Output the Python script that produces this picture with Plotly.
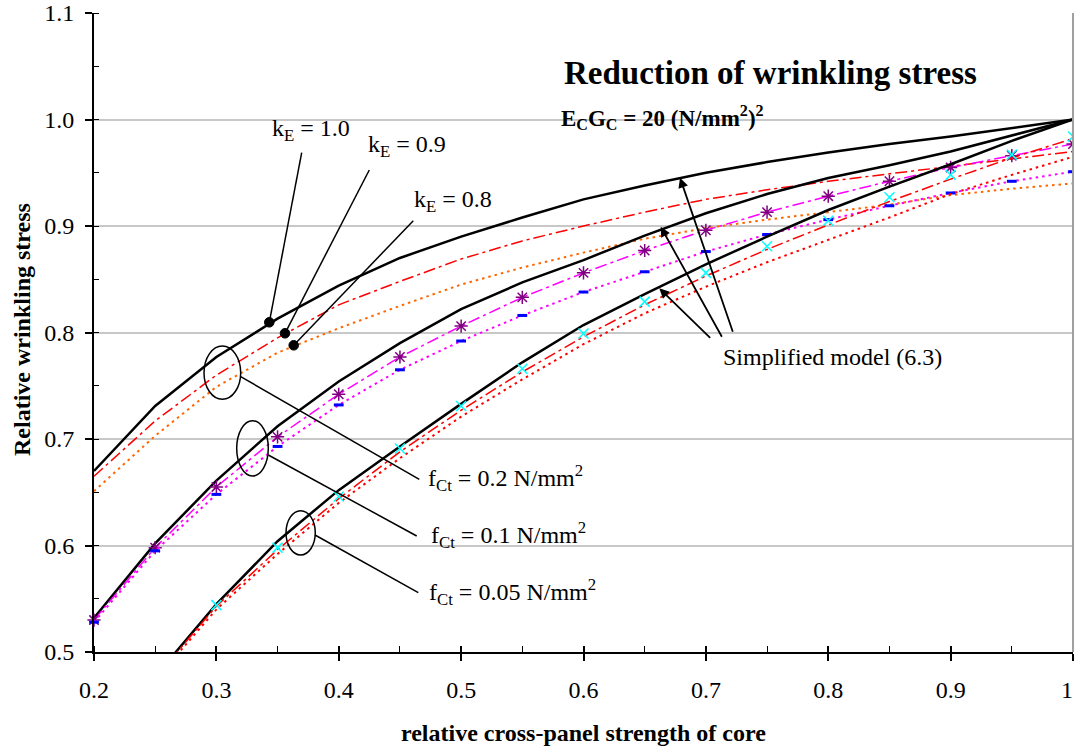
import plotly.graph_objects as go

# ---------------- data ----------------
x_vals = [0.20, 0.25, 0.30, 0.35, 0.40, 0.45, 0.50, 0.55, 0.60, 0.65,
          0.70, 0.75, 0.80, 0.85, 0.90, 0.95, 1.00]

# fCt = 0.2 N/mm2
g1_ke10 = [0.670, 0.731, 0.777, 0.813, 0.844, 0.870, 0.890, 0.908, 0.925, 0.938,
           0.950, 0.960, 0.969, 0.977, 0.984, 0.992, 1.000]
g1_ke09 = [0.665, 0.717, 0.760, 0.795, 0.826, 0.848, 0.869, 0.886, 0.900, 0.913,
           0.925, 0.934, 0.942, 0.949, 0.956, 0.963, 0.970]
g1_ke08 = [0.651, 0.703, 0.749, 0.781, 0.804, 0.825, 0.845, 0.861, 0.875, 0.888,
           0.898, 0.906, 0.913, 0.920, 0.929, 0.935, 0.940]
# fCt = 0.1 N/mm2
g2_ke10 = [0.532, 0.602, 0.661, 0.712, 0.754, 0.790, 0.822, 0.847, 0.868, 0.891,
           0.912, 0.930, 0.945, 0.957, 0.970, 0.985, 1.000]
g2_ke09 = [0.530, 0.598, 0.655, 0.702, 0.742, 0.777, 0.806, 0.833, 0.856, 0.877,
           0.896, 0.913, 0.928, 0.942, 0.955, 0.966, 0.977]
g2_ke08 = [0.528, 0.595, 0.648, 0.693, 0.732, 0.765, 0.792, 0.816, 0.838, 0.857,
           0.876, 0.892, 0.906, 0.919, 0.931, 0.942, 0.951]
# fCt = 0.05 N/mm2
g3_ke10 = [None, 0.477, 0.545, 0.604, 0.652, 0.693, 0.733, 0.772, 0.807, 0.836,
           0.864, 0.890, 0.915, 0.937, 0.958, 0.980, 1.000]
g3_ke09 = [None, 0.476, 0.543, 0.596, 0.644, 0.688, 0.727, 0.763, 0.796, 0.826,
           0.853, 0.878, 0.901, 0.923, 0.944, 0.964, 0.982]
g3_ke08 = [None, 0.474, 0.540, 0.592, 0.640, 0.682, 0.721, 0.756, 0.789, 0.818,
           0.843, 0.866, 0.887, 0.908, 0.930, 0.948, 0.965]
g3_marks = [None, None, 0.544, 0.598, 0.646, 0.691, 0.731, 0.766, 0.799, 0.829,
            0.856, 0.881, 0.905, 0.927, 0.948, 0.967, 0.984]

x_ticks = [0.2, 0.3, 0.4, 0.5, 0.6, 0.7, 0.8, 0.9, 1.0]
x_ticktext = ["0.2", "0.3", "0.4", "0.5", "0.6", "0.7", "0.8", "0.9", ""]
x_last_label = "1"   # drawn right-aligned at the edge so it is not cut off
y_ticks = [0.5, 0.6, 0.7, 0.8, 0.9, 1.0, 1.1]
y_ticktext = ["0.5", "0.6", "0.7", "0.8", "0.9", "1.0", "1.1"]

# ---------------- layout geometry ----------------
W, H = 1074, 749
ML, MR, MT, MB = 94, 1, 13, 97
X0, X1, Y0, Y1 = 0.2, 1.0, 0.5, 1.1
PW, PH = W - ML - MR, H - MT - MB


def px2x(px):
    return X0 + (px - ML) / PW * (X1 - X0)


def py2y(py):
    return Y1 - (py - MT) / PH * (Y1 - Y0)


SERIF = "Liberation Serif, Times New Roman, serif"
FS = 24

fig = go.Figure()

BLACK = dict(color="black", width=2.5)
DASHDOT = "12px,4px,3px,4px"
DOT = "2.5px,4px"

fig.add_trace(go.Scatter(x=x_vals, y=g1_ke10, mode="lines", line=BLACK))
fig.add_trace(go.Scatter(x=x_vals, y=g1_ke09, mode="lines",
                         line=dict(color="#FF0000", width=1.5, dash=DASHDOT)))
fig.add_trace(go.Scatter(x=x_vals, y=g1_ke08, mode="lines",
                         line=dict(color="#FF6600", width=2, dash=DOT)))

fig.add_trace(go.Scatter(x=x_vals, y=g2_ke10, mode="lines", line=BLACK))
fig.add_trace(go.Scatter(x=x_vals, y=g2_ke09, mode="lines+markers",
                         line=dict(color="#FF00FF", width=1.5, dash=DASHDOT),
                         marker=dict(symbol="asterisk-open", size=11, color="#800080",
                                     line=dict(color="#800080", width=1.5)),
                         cliponaxis=False))
fig.add_trace(go.Scatter(x=x_vals, y=g2_ke08, mode="lines+markers",
                         line=dict(color="#FF00FF", width=2, dash=DOT),
                         marker=dict(symbol="line-ew-open", size=7, color="#0000FF",
                                     line=dict(color="#0000FF", width=3)),
                         cliponaxis=False))

fig.add_trace(go.Scatter(x=x_vals, y=g3_ke10, mode="lines", line=BLACK))
fig.add_trace(go.Scatter(x=x_vals, y=g3_ke09, mode="lines",
                         line=dict(color="#FF0000", width=1.5, dash=DASHDOT)))
fig.add_trace(go.Scatter(x=x_vals, y=g3_ke08, mode="lines",
                         line=dict(color="#FF0000", width=2, dash=DOT)))
fig.add_trace(go.Scatter(x=x_vals, y=g3_marks, mode="markers",
                         marker=dict(symbol="x-thin-open", size=10, color="#00FFFF",
                                     line=dict(color="#00FFFF", width=1.5)),
                         cliponaxis=False))
# empty trace to show the inner half of the major x ticks
fig.add_trace(go.Scatter(x=[None], y=[None], xaxis="x2", yaxis="y",
                         mode="lines", hoverinfo="skip"))

shapes = []
# right frame edge
shapes.append(dict(type="line", xref="paper", yref="paper", x0=1, x1=1, y0=0, y1=1,
                   line=dict(color="#A0A0A0", width=2)))


def seg(p, q, w=1.5):
    shapes.append(dict(type="line", xref="x", yref="y",
                       x0=px2x(p[0]), y0=py2y(p[1]), x1=px2x(q[0]), y1=py2y(q[1]),
                       line=dict(color="black", width=w)))


def ellipse(xa, xb, ya, yb):
    shapes.append(dict(type="circle", xref="x", yref="y",
                       x0=px2x(xa), x1=px2x(xb), y0=py2y(ya), y1=py2y(yb),
                       line=dict(color="black", width=1.5)))


def dot(p, r=4.8):
    shapes.append(dict(type="circle", xref="x", yref="y",
                       xsizemode="pixel", ysizemode="pixel",
                       xanchor=px2x(p[0]), yanchor=py2y(p[1]),
                       x0=-r, x1=r, y0=-r, y1=r,
                       fillcolor="black", line=dict(color="black", width=1)))


# kE leaders
seg((301.7, 152.7), (269.3, 322.3))
seg((369.3, 170.0), (285.0, 333.3))
seg((413.3, 220.7), (293.7, 345.3))
dot((269.3, 322.3))
dot((285.0, 333.3))
dot((293.7, 345.3))

# fCt ellipses and leaders
ellipse(204.0, 240.7, 346.0, 399.3)
ellipse(236.7, 268.3, 420.7, 476.0)
ellipse(286.0, 315.3, 510.7, 555.0)
seg((240.7, 376.7), (419.3, 479.3))
seg((268.3, 455.0), (416.7, 536.0))
seg((315.0, 535.0), (418.3, 592.7))

annotations = []


def label(text, left_px, mid_py, size=FS, anchor="left"):
    annotations.append(dict(text=text, x=px2x(left_px), y=py2y(mid_py),
                            xref="x", yref="y", xanchor=anchor, yanchor="middle",
                            showarrow=False, borderpad=0,
                            font=dict(family=SERIF, size=size, color="black")))


label("<b>Reduction of wrinkling stress</b>", 770, 73, size=33, anchor="center")
label("<b>E<sub>C</sub>G<sub>C</sub> = 20 (N/mm<sup>2</sup>)<sup>2</sup></b>", 560, 117, size=23)
label("k<sub>E</sub> = 1.0", 271, 130)
label("k<sub>E</sub> = 0.9", 367, 146)
label("k<sub>E</sub> = 0.8", 413, 201)
label("f<sub>Ct</sub> = 0.2 N/mm<sup>2</sup>", 427, 478)
label("f<sub>Ct</sub> = 0.1 N/mm<sup>2</sup>", 430, 535)
label("f<sub>Ct</sub> = 0.05 N/mm<sup>2</sup>", 428, 592)
label("Simplified model (6.3)", 722, 357)

# last x tick label, right aligned at the figure edge
annotations.append(dict(text=x_last_label, xref="paper", yref="paper",
                        x=1.0, y=(H - MB - 690) / PH, xanchor="right", yanchor="middle",
                        xshift=1, showarrow=False, borderpad=0,
                        font=dict(family=SERIF, size=FS, color="black")))

# arrows for simplified model
for tail, tip in [((733.3, 333.3), (680.0, 177.7)),
                  ((722.7, 338.3), (660.7, 226.7)),
                  ((711.7, 339.3), (659.3, 288.3))]:
    annotations.append(dict(x=px2x(tip[0]), y=py2y(tip[1]), xref="x", yref="y",
                            ax=tail[0] - tip[0], ay=tail[1] - tip[1],
                            axref="pixel", ayref="pixel", text="",
                            showarrow=True, arrowhead=2, arrowsize=1.1,
                            arrowwidth=1.8, arrowcolor="black", standoff=0))

# axis titles
annotations.append(dict(text="<b>Relative wrinkling stress</b>", xref="paper", yref="paper",
                        x=(22 - ML) / PW, y=(H - MB - 330) / PH, textangle=-90,
                        xanchor="center", yanchor="middle", showarrow=False,
                        font=dict(family=SERIF, size=FS, color="black")))
annotations.append(dict(text="<b>relative cross-panel strength of core</b>", xref="paper",
                        yref="paper", x=(583 - ML) / PW, y=(H - MB - 733) / PH,
                        xanchor="center", yanchor="middle", showarrow=False,
                        font=dict(family=SERIF, size=FS, color="black")))

fig.update_layout(
    width=W, height=H, autosize=False,
    margin=dict(l=ML, r=MR, t=MT, b=MB, pad=0),
    paper_bgcolor="white", plot_bgcolor="white",
    showlegend=False,
    shapes=shapes, annotations=annotations,
    font=dict(family=SERIF, size=FS, color="black"),
    xaxis=dict(range=[X0, X1], tickvals=x_ticks, ticktext=x_ticktext,
               showgrid=False, zeroline=False, automargin=False,
               showline=True, linecolor="black", linewidth=2,
               ticks="outside", ticklen=7, tickwidth=1.5, tickcolor="black",
               ticklabelstandoff=8,
               minor=dict(dtick=0.05, ticks="inside", ticklen=6, tickwidth=1,
                          tickcolor="black", showgrid=False),
               tickfont=dict(family=SERIF, size=FS, color="black"),
               fixedrange=True),
    xaxis2=dict(range=[X0, X1], overlaying="x", anchor="y", side="bottom",
                tickvals=x_ticks, showticklabels=False, showgrid=False,
                zeroline=False, showline=False, automargin=False,
                ticks="inside", ticklen=6, tickwidth=1.5, tickcolor="black",
                fixedrange=True),
    yaxis=dict(range=[Y0, Y1], tickvals=y_ticks, ticktext=y_ticktext,
               showgrid=True, gridcolor="#C8C8C8", gridwidth=1.5, zeroline=False,
               automargin=False,
               showline=True, linecolor="black", linewidth=2,
               ticks="outside", ticklen=7, tickwidth=1.5, tickcolor="black",
               ticklabelstandoff=6, ticklabeloverflow="allow",
               minor=dict(dtick=0.05, ticks="inside", ticklen=5, tickwidth=1,
                          tickcolor="black", showgrid=False),
               tickfont=dict(family=SERIF, size=FS, color="black"),
               fixedrange=True),
)

fig.write_html(
    "out.html",
    config={"displayModeBar": False},
    post_script="document.body.style.margin='0px';document.body.style.overflow='hidden';",
)
